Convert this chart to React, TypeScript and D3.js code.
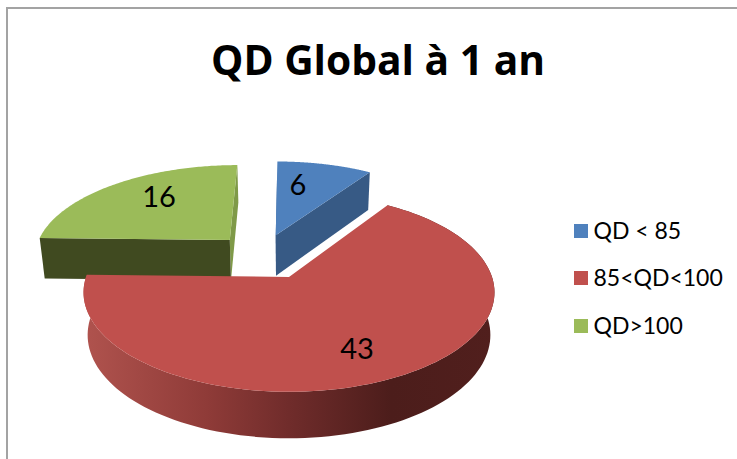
import React from "react";
import * as d3 from "d3";

const categories = ["QD < 85", "85<QD<100", "QD>100"];
const values = [6, 43, 16];
const topColors = ["#4f81bd", "#c0504d", "#9bbb59"];
const wallColors = ["#375a85", "#7a2f2d", "#404a20"];
const titleText = "QD Global à 1 an";

// projection of the pie's disk (tilted, with perspective) onto the page
const CX = 289, CY = 277, RX = 203, RY = 97, K = 0.155, DEPTH = 42, SHRINK = 0.98;
const explode: [number, number][] = [[-0.07, 0.46], [0, 0], [-0.31, 0.405]];
const labelPos: [number, number][] = [[298, 195], [357, 359], [159, 207]];
const legendY = [231, 278, 326];

type P = [number, number];
const top = (u: number, v: number): P => {
  const w = 1 + K * v;
  return [CX + (RX * u) / w, CY - (RY * v) / w];
};
const bottom = (u: number, v: number): P => {
  const w = 1 + K * v;
  return [CX + (SHRINK * RX * u) / w, CY - (RY * v) / w + DEPTH / Math.pow(w, 0.6)];
};
const rim = (a: number, o: [number, number]): [number, number] => [o[0] + Math.sin(a), o[1] + Math.cos(a)];
const line = d3.line<P>().curve(d3.curveLinear);

const arcs = d3.pie<number>().sort(null)(values);
const samples = (a0: number, a1: number) => d3.range(0, 121).map((i) => a0 + ((a1 - a0) * i) / 120);

const sector = (i: number) => {
  const a = arcs[i];
  const o = explode[i];
  const pts = samples(a.startAngle, a.endAngle).map((t) => top(...rim(t, o)));
  return line([top(o[0], o[1]), ...pts])! + "Z";
};
// flat wall along one radial edge
const radialWall = (i: number, angle: number) => {
  const o = explode[i];
  const [u, v] = rim(angle, o);
  return line([top(o[0], o[1]), top(u, v), bottom(u, v), bottom(o[0], o[1])])! + "Z";
};
const outerWall = (i: number) => {
  const a = arcs[i];
  const o = explode[i];
  const ts = samples(a.startAngle, a.endAngle);
  return line([
    ...ts.map((t) => top(...rim(t, o))),
    ...ts.slice().reverse().map((t) => bottom(...rim(t, o))),
  ])! + "Z";
};

const gradStops: [number, string][] = [
  [0, "#b0534e"],
  [0.3, "#8f3b38"],
  [0.5, "#702c2b"],
  [0.75, "#4c1d1b"],
  [1, "#511f1d"],
];

export default function App() {
  return (
    <svg
      width={737}
      height={459}
      style={{ position: "absolute", left: 0, top: 0, background: "#fff" }}
      fontFamily="Lato, 'Open Sans', sans-serif"
    >
      <defs>
        <linearGradient id="redWall" gradientUnits="userSpaceOnUse" x1={84} x2={494} y1={0} y2={0}>
          {gradStops.map(([o, c]) => (
            <stop key={o} offset={o} stopColor={c} />
          ))}
        </linearGradient>
      </defs>
      <path d="M737 8H7V459" fill="none" stroke="#a3a3a3" strokeWidth={2} />
      <text
        x={378}
        y={75}
        textAnchor="middle"
        fontFamily="'Open Sans', sans-serif"
        fontWeight={700}
        fontSize={42}
        textLength={334}
        lengthAdjust="spacingAndGlyphs"
      >
        {titleText}
      </text>

      {/* green slice */}
      <path d={radialWall(2, arcs[2].endAngle)} fill="#7f9a48" />
      <path d={radialWall(2, arcs[2].startAngle)} fill={wallColors[2]} />
      <path d={sector(2)} fill={topColors[2]} />

      {/* blue slice */}
      <path d={radialWall(0, arcs[0].startAngle)} fill="#41689a" />
      <path d={radialWall(0, arcs[0].endAngle)} fill={wallColors[0]} />
      <path d={sector(0)} fill={topColors[0]} />

      {/* red slice */}
      <path d={outerWall(1)} fill="url(#redWall)" />
      <path d={sector(1)} fill={topColors[1]} />

      {values.map((v, i) => (
        <text key={i} x={labelPos[i][0]} y={labelPos[i][1]} textAnchor="middle" fontSize={29} fill="#000">
          {v}
        </text>
      ))}

      {categories.map((c, i) => (
        <g key={c}>
          <rect x={574} y={legendY[i] - 7} width={14} height={14} fill={topColors[i]} />
          <text x={593.5} y={legendY[i] + 8} fontSize={23} fill="#000">
            {c}
          </text>
        </g>
      ))}
    </svg>
  );
}
